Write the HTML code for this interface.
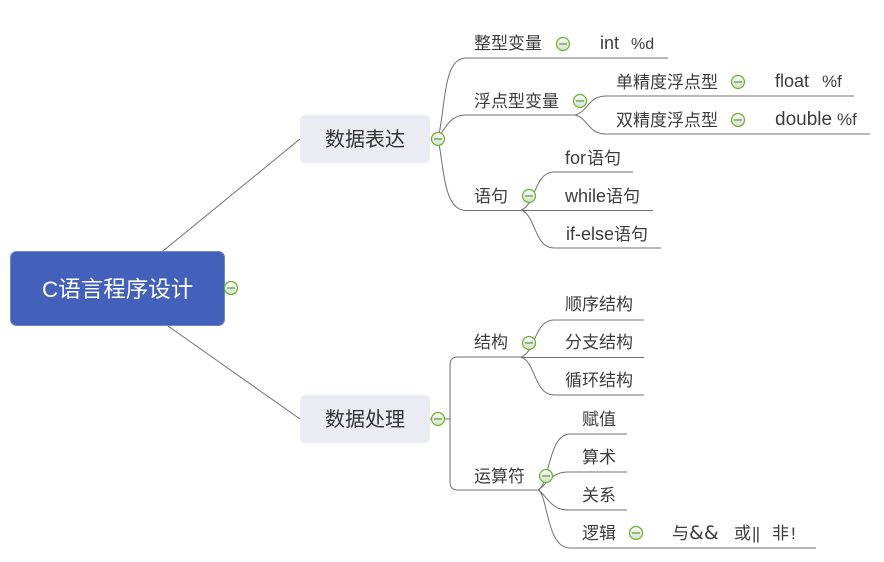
<!DOCTYPE html>
<html><head><meta charset="utf-8"><style>
html,body{margin:0;padding:0;background:#fff;width:884px;height:562px;overflow:hidden}
svg{display:block}
text{font-family:"Liberation Sans","Noto Sans CJK SC",sans-serif;fill:#3c3c3c;font-size:17px}
.l{font-size:18px}
.m{font-size:20px;text-anchor:middle;fill:#333}
.c{fill:none;stroke:#707070;stroke-width:1}
</style></head><body>
<svg width="884" height="562" viewBox="0 0 884 562" xmlns="http://www.w3.org/2000/svg">
<defs>
<linearGradient id="g" x1="0" y1="0" x2="0" y2="1"><stop offset="0" stop-color="#fafcf8"/><stop offset="1" stop-color="#d5e0cf"/></linearGradient>
<g id="t"><circle r="6.500" fill="url(#g)" stroke="#6cb02c" stroke-width="1.200"/><path d="M-4 0H4" stroke="#3f8a10" stroke-width="1"/></g>
</defs>
<path class="c" d="M163 251L300 139M168 326L300 419"/>
<rect x="10.500" y="251.500" width="214" height="74" rx="6" fill="#4360ba" stroke="#6f85cb"/>
<text x="42" y="297" style="font-size:22.500px;fill:#fff">C语言程序设计</text>
<use href="#t" x="231" y="288"/>
<rect x="300" y="115" width="130" height="48" rx="5" fill="#ebebf4"/>
<rect x="300" y="395" width="130" height="48" rx="5" fill="#ebebf4"/>
<text class="m" x="365" y="146">数据表达</text>
<text class="m" x="365" y="426">数据处理</text>

<path class="c" d="M438 139C446 105 443 58 466 58H668"/>
<path class="c" d="M438 139C446 125 452 115 466 115H575"/>
<path class="c" d="M438 139C444 165 443 210.500 466 210.500H653"/>
<path class="c" d="M575 115C588 112 588 96 606 96H854"/>
<path class="c" d="M575 115C588 118 588 134 606 134H870"/>
<path class="c" d="M521 210C536 205 534 172 554 172H633"/>
<path class="c" d="M521 210C536 215 534 248 554 248H661"/>

<path class="c" d="M430 419H450M450 365V482Q450 490 458 490H538M450 365Q450 357 458 357H521"/>
<path class="c" d="M521 357C536 352 534 320 554 320H644"/>
<path class="c" d="M521 357.500H644"/>
<path class="c" d="M521 357C536 362 534 395 554 395H644"/>
<path class="c" d="M538 490C550 484 548 434 570 434H627"/>
<path class="c" d="M538 490C546 486 550 472 568 472H627"/>
<path class="c" d="M538 490C546 494 550 510 568 510H627"/>
<path class="c" d="M538 490C548 494 546 548 570 548H816"/>

<use href="#t" x="438" y="139"/><use href="#t" x="438" y="419"/>
<text x="474" y="49">整型变量</text><use href="#t" x="563" y="44"/><text x="600" y="49" class="l">int</text><text x="631" y="49" style="font-size:16px">%d</text>
<text x="474" y="107">浮点型变量</text><use href="#t" x="580" y="101"/>
<text x="616" y="88">单精度浮点型</text><use href="#t" x="738" y="82"/><text x="775" y="87" class="l">float</text><text x="822" y="87">%f</text>
<text x="616" y="126">双精度浮点型</text><use href="#t" x="738" y="120"/><text x="775" y="125" style="font-size:19px">double</text><text x="837" y="125">%f</text>
<text x="474" y="202">语句</text><use href="#t" x="529" y="196"/>
<text x="565" y="164" class="l">for</text><text x="587" y="164">语句</text>
<text x="565" y="202" class="l">while</text><text x="606" y="202">语句</text>
<text x="566" y="240" class="l">if-else</text><text x="614" y="240">语句</text>
<text x="474" y="348">结构</text><use href="#t" x="529" y="343"/>
<text x="565" y="310">顺序结构</text><text x="565" y="348">分支结构</text><text x="565" y="386">循环结构</text>
<text x="474" y="482">运算符</text><use href="#t" x="546" y="476"/>
<text x="582" y="425">赋值</text><text x="582" y="463">算术</text><text x="582" y="501">关系</text>
<text x="582" y="539">逻辑</text><use href="#t" x="636" y="533"/>
<text x="672" y="539">与</text><text x="689" y="539" style='font-family:"DejaVu Sans",sans-serif;font-size:19px'>&amp;&amp;</text><text x="734" y="539">或</text><text x="752" y="539" textLength="8">||</text><text x="772" y="539">非</text><text x="791" y="539">!</text>
</svg>
</body></html>
